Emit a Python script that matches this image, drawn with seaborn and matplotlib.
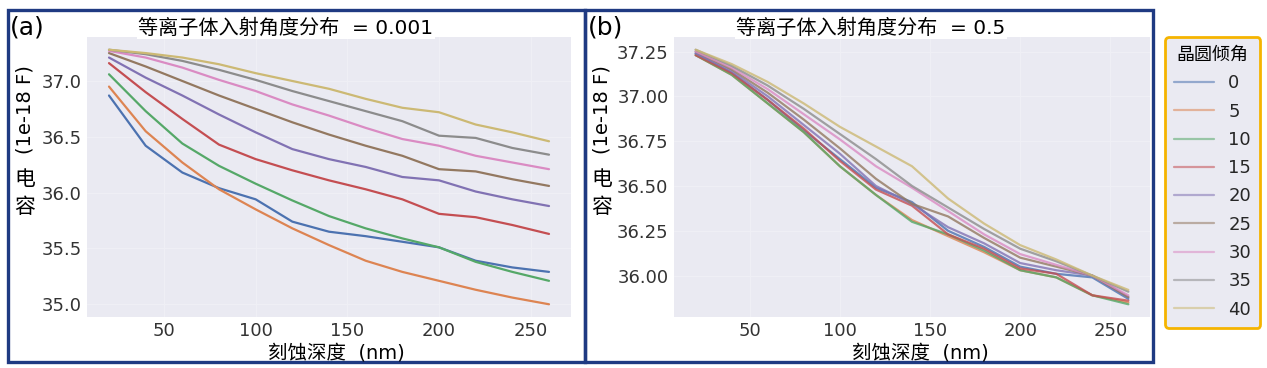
import numpy as np
import pandas as pd
import seaborn as sns
import matplotlib
matplotlib.use("Agg")
import matplotlib.pyplot as plt
from matplotlib.lines import Line2D
from matplotlib.patches import Rectangle

# ---------------- data ----------------
depth = [20, 40, 60, 80, 100, 120, 140, 160, 180, 200, 220, 240, 260]
tilts = ["0", "5", "10", "15", "20", "25", "30", "35", "40"]

# panel (a): plasma angle distribution = 0.001
a_0 = [36.87, 36.42, 36.18, 36.04, 35.94, 35.74, 35.65, 35.61, 35.56, 35.51, 35.39, 35.33, 35.29]
a_5 = [36.95, 36.55, 36.27, 36.03, 35.85, 35.68, 35.53, 35.39, 35.29, 35.21, 35.13, 35.06, 35.00]
a_10 = [37.06, 36.73, 36.44, 36.24, 36.08, 35.93, 35.79, 35.68, 35.59, 35.51, 35.38, 35.29, 35.21]
a_15 = [37.16, 36.90, 36.66, 36.43, 36.30, 36.20, 36.11, 36.03, 35.94, 35.81, 35.78, 35.71, 35.63]
a_20 = [37.21, 37.03, 36.87, 36.70, 36.54, 36.39, 36.30, 36.23, 36.14, 36.11, 36.01, 35.94, 35.88]
a_25 = [37.25, 37.13, 37.00, 36.87, 36.75, 36.63, 36.52, 36.42, 36.33, 36.21, 36.19, 36.12, 36.06]
a_30 = [37.27, 37.21, 37.12, 37.01, 36.91, 36.79, 36.69, 36.58, 36.48, 36.42, 36.33, 36.27, 36.21]
a_35 = [37.28, 37.24, 37.18, 37.10, 37.01, 36.91, 36.82, 36.73, 36.64, 36.51, 36.49, 36.40, 36.34]
a_40 = [37.28, 37.25, 37.21, 37.15, 37.07, 37.00, 36.93, 36.84, 36.76, 36.72, 36.61, 36.54, 36.46]

# panel (b): plasma angle distribution = 0.5
b_0 = [37.24, 37.13, 36.98, 36.81, 36.65, 36.49, 36.41, 36.25, 36.16, 36.05, 36.01, 35.99, 35.87]
b_5 = [37.23, 37.12, 36.96, 36.80, 36.61, 36.45, 36.31, 36.22, 36.13, 36.03, 35.99, 35.89, 35.85]
b_10 = [37.23, 37.12, 36.96, 36.80, 36.61, 36.45, 36.30, 36.23, 36.14, 36.03, 35.99, 35.89, 35.84]
b_15 = [37.23, 37.13, 36.98, 36.82, 36.64, 36.48, 36.39, 36.23, 36.15, 36.04, 36.01, 35.89, 35.86]
b_20 = [37.24, 37.14, 37.00, 36.84, 36.68, 36.50, 36.40, 36.27, 36.18, 36.07, 36.03, 36.00, 35.88]
b_25 = [37.25, 37.15, 37.02, 36.87, 36.71, 36.54, 36.40, 36.33, 36.21, 36.10, 36.05, 36.00, 35.88]
b_30 = [37.25, 37.16, 37.04, 36.90, 36.76, 36.61, 36.49, 36.36, 36.23, 36.12, 36.06, 36.00, 35.89]
b_35 = [37.26, 37.17, 37.06, 36.93, 36.79, 36.65, 36.50, 36.38, 36.26, 36.15, 36.08, 36.00, 35.91]
b_40 = [37.26, 37.18, 37.08, 36.96, 36.83, 36.72, 36.61, 36.43, 36.29, 36.17, 36.09, 36.00, 35.92]

xticks = [50, 100, 150, 200, 250]
yticks_a = [35.0, 35.5, 36.0, 36.5, 37.0]
yticks_b = [36.00, 36.25, 36.50, 36.75, 37.00, 37.25]

title_a = "等离子体入射角度分布  = 0.001"
title_b = "等离子体入射角度分布  = 0.5"
xlabel = "刻蚀深度  (nm)"
ylabel_unit = "(1e-18 F)"
ylabel_cn = "电\n容"
legend_title = "晶圆倾角"

series_a = [a_0, a_5, a_10, a_15, a_20, a_25, a_30, a_35, a_40]
series_b = [b_0, b_5, b_10, b_15, b_20, b_25, b_30, b_35, b_40]


def to_long(series):
    rows = []
    for t, vals in zip(tilts, series):
        for d, v in zip(depth, vals):
            rows.append({"depth": d, "cap": v, "tilt": t})
    return pd.DataFrame(rows)


df_a = to_long(series_a)
df_b = to_long(series_b)

# ---------------- style ----------------
sns.set_theme(style="darkgrid")
plt.rcParams["font.family"] = ["DejaVu Sans", "Noto Sans CJK SC"]
palette = sns.color_palette("deep", 9)
text_col = "#262626"

fig = plt.figure(figsize=(12.67, 3.68), dpi=100)
fig.patch.set_facecolor("white")

W, H = 1267.0, 368.0


def ax_rect(l, r, t, b):
    return [l / W, 1 - b / H, (r - l) / W, (b - t) / H]


ax_a = fig.add_axes(ax_rect(87, 571, 37, 317))
ax_b = fig.add_axes(ax_rect(674, 1150, 37, 317))

sns.lineplot(data=df_a, x="depth", y="cap", hue="tilt", hue_order=tilts,
             palette=palette, legend=False, ax=ax_a, linewidth=1.6)
sns.lineplot(data=df_b, x="depth", y="cap", hue="tilt", hue_order=tilts,
             palette=palette, legend=False, ax=ax_b, linewidth=1.6, alpha=0.8)

for ax, yt, fmt in [(ax_a, yticks_a, "{:.1f}"), (ax_b, yticks_b, "{:.2f}")]:
    ax.set_facecolor("#eaeaf2")
    ax.grid(True, color="#efeff5", linewidth=1.0)
    ax.set_xticks(xticks)
    ax.set_xticklabels([str(x) for x in xticks])
    ax.set_yticks(yt)
    ax.set_yticklabels([fmt.format(v) for v in yt])
    ax.tick_params(axis="both", labelsize=13, colors="#333333", length=0)
    ax.tick_params(axis="x", pad=3.5)
    ax.tick_params(axis="y", pad=4)
    ax.set_xlabel("")
    ax.set_ylabel("")
    for s in ax.spines.values():
        s.set_visible(False)

# ---------------- panel frames ----------------
navy = "#1f3a82"
fig.patches.append(Rectangle((8 / W, 1 - 362 / H), 577 / W, 352 / H,
                             transform=fig.transFigure, fill=False,
                             edgecolor=navy, linewidth=2.4, zorder=0))
fig.patches.append(Rectangle((585 / W, 1 - 362 / H), 568 / W, 352 / H,
                             transform=fig.transFigure, fill=False,
                             edgecolor=navy, linewidth=2.4, zorder=0))

# ---------------- texts ----------------
fig.text(10 / W, 1 - 28 / H, "(a)", fontsize=18, color="black", va="center", ha="left")
fig.text(588 / W, 1 - 28 / H, "(b)", fontsize=18, color="black", va="center", ha="left")

fig.text(286 / W, 1 - 28 / H, title_a, fontsize=14.5, color="black", va="center", ha="center",
         bbox=dict(facecolor="white", edgecolor="none", pad=1.0))
fig.text(871 / W, 1 - 28 / H, title_b, fontsize=14.5, color="black", va="center", ha="center",
         bbox=dict(facecolor="white", edgecolor="none", pad=1.0))

for xc in (336, 920):
    fig.text(xc / W, 1 - 353 / H, xlabel, fontsize=14, color="black", va="center", ha="center")

for xc in (25, 602):
    fig.text(xc / W, 1 - 110 / H, ylabel_unit, fontsize=14, color="black",
             va="center", ha="center", rotation=90)
    fig.text(xc / W, 1 - 193 / H, ylabel_cn, fontsize=15, color="black",
             va="center", ha="center", linespacing=1.5)

# ---------------- legend ----------------
handles = [Line2D([0], [0], color=c, linewidth=1.6, alpha=0.55) for c in palette]
leg = fig.legend(handles, tilts, title=legend_title, loc="upper left",
                 bbox_to_anchor=(1165 / W, 1 - 37 / H), bbox_transform=fig.transFigure,
                 fontsize=13, title_fontsize=13, frameon=True, fancybox=True,
                 handlelength=2.2, handletextpad=0.8, labelspacing=0.57,
                 borderpad=0.5, borderaxespad=0.0)
frame = leg.get_frame()
frame.set_facecolor("#eaeaf2")
frame.set_edgecolor("#f5b400")
frame.set_linewidth(2.0)
frame.set_alpha(1.0)
for t in leg.get_texts():
    t.set_color(text_col)
leg.get_title().set_color("black")

fig.savefig("out.png", dpi=100, facecolor="white")
